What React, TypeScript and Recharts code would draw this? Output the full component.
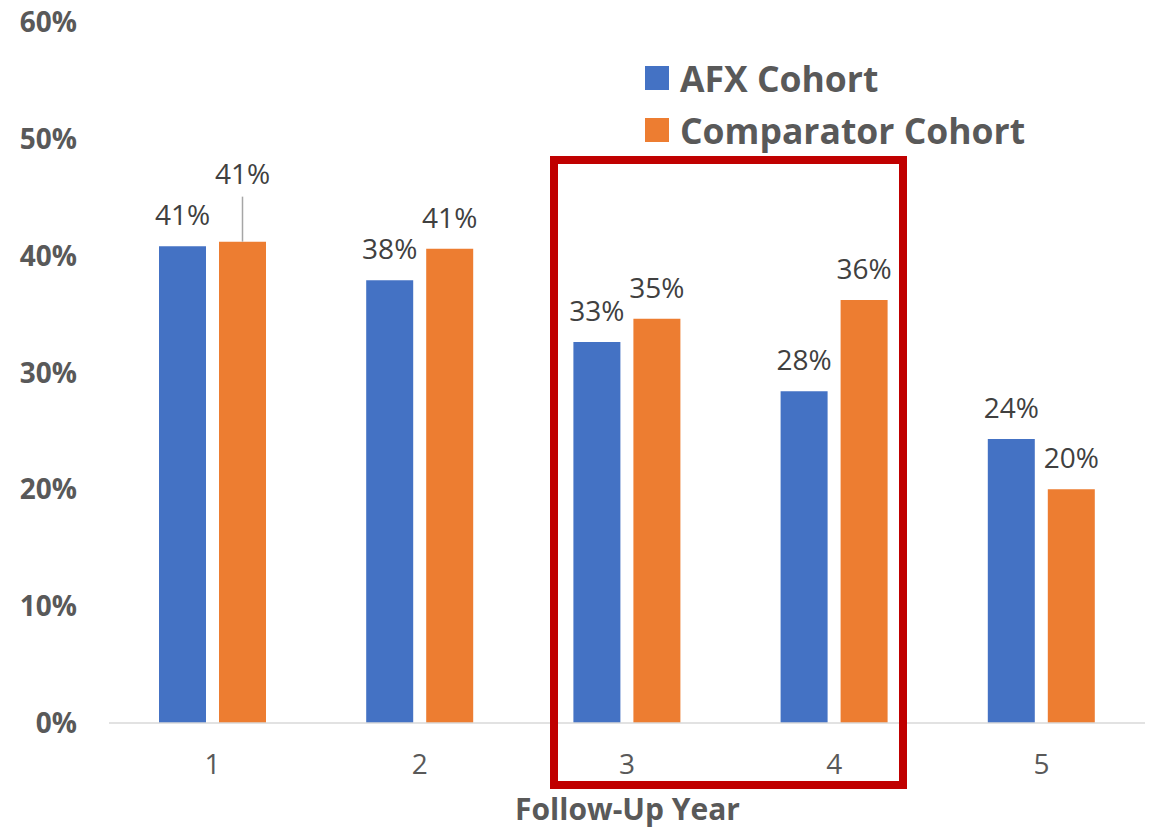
import { BarChart, Bar, XAxis, YAxis, Legend, LabelList } from 'recharts'

const years = ['1', '2', '3', '4', '5']
const afxCohort = [40.8, 37.9, 32.6, 28.4, 24.3]
const comparatorCohort = [41.2, 40.6, 34.6, 36.2, 20.0]
const yTicks = [0, 10, 20, 30, 40, 50, 60]

const data = years.map((year, i) => ({
  year,
  afx: afxCohort[i],
  comp: comparatorCohort[i],
}))

const FONT = '"Open Sans", sans-serif'
const GREY = '#595959'

function YTick({ x, y, payload }: any) {
  return (
    <text x={x - 32} y={y + 10} textAnchor="end" fill={GREY} fontFamily={FONT} fontSize={28} fontWeight={700}>
      {payload.value}%
    </text>
  )
}

function XTick({ x, y, payload }: any) {
  return (
    <text x={x} y={y + 51} textAnchor="middle" fill={GREY} fontFamily={FONT} fontSize={28}>
      {payload.value}
    </text>
  )
}

// the first comparator label sits higher with a leader line, like in the original
function makeLabel(withLeader: boolean) {
  return (props: any) => {
    const { x, y, width, value, index } = props
    const cx = x + width / 2
    const lead = withLeader && index === 0
    return (
      <g>
        {lead && <line x1={cx} x2={cx} y1={y - 45} y2={y} stroke="#A6A6A6" strokeWidth={1.5} />}
        <text x={cx} y={lead ? y - 58 : y - 21} textAnchor="middle" fill="#404040" fontFamily={FONT} fontSize={28}>
          {Math.round(value)}%
        </text>
      </g>
    )
  }
}

function LegendBox({ payload }: any) {
  return (
    <div>
      {payload.map((p: any) => (
        <div key={p.value} style={{ display: 'flex', alignItems: 'center', height: 52 }}>
          <span style={{ width: 24, height: 24, background: p.color, marginRight: 11 }} />
          <span style={{ fontFamily: FONT, fontSize: 35.5, fontWeight: 700, color: GREY, whiteSpace: 'nowrap' }}>
            {p.value}
          </span>
        </div>
      ))}
    </div>
  )
}

export default function App() {
  return (
    <div style={{ position: 'absolute', left: 0, top: 0, width: 1153, height: 829, background: '#fff' }}>
      <BarChart width={1153} height={829} data={data} margin={{ top: 22, right: 8, bottom: 0, left: 0 }} barSize={47} barGap={13}>
        <XAxis
          dataKey="year"
          height={106}
          tickLine={false}
          tickSize={0}
          tickMargin={0}
          axisLine={{ stroke: '#D9D9D9', strokeWidth: 1.5 }}
          tick={<XTick />}
        />
        <YAxis
          width={109}
          domain={[0, 60]}
          ticks={yTicks}
          axisLine={false}
          tickLine={false}
          tickSize={0}
          tickMargin={0}
          tick={<YTick />}
        />
        <Legend
          layout="vertical"
          align="center"
          verticalAlign="middle"
          content={<LegendBox />}
          wrapperStyle={{ left: 645, top: 52, width: 420, height: 110 }}
        />
        <Bar dataKey="afx" name="AFX Cohort" fill="#4472C4" isAnimationActive={false}>
          <LabelList dataKey="afx" content={makeLabel(false)} />
        </Bar>
        <Bar dataKey="comp" name="Comparator Cohort" fill="#ED7D31" isAnimationActive={false}>
          <LabelList dataKey="comp" content={makeLabel(true)} />
        </Bar>
      </BarChart>
      <div
        style={{
          position: 'absolute',
          left: 0,
          width: 1153,
          top: 791,
          textAlign: 'center',
          paddingLeft: 102,
          boxSizing: 'border-box',
          fontFamily: FONT,
          fontSize: 30,
          fontWeight: 700,
          color: GREY,
          lineHeight: '36px',
        }}
      >
        Follow-Up Year
      </div>
      <svg style={{ position: 'absolute', left: 0, top: 0, pointerEvents: 'none' }} width={1153} height={829}>
        <rect x={554} y={160} width={349} height={625} fill="none" stroke="#C00000" strokeWidth={8} />
      </svg>
    </div>
  )
}
